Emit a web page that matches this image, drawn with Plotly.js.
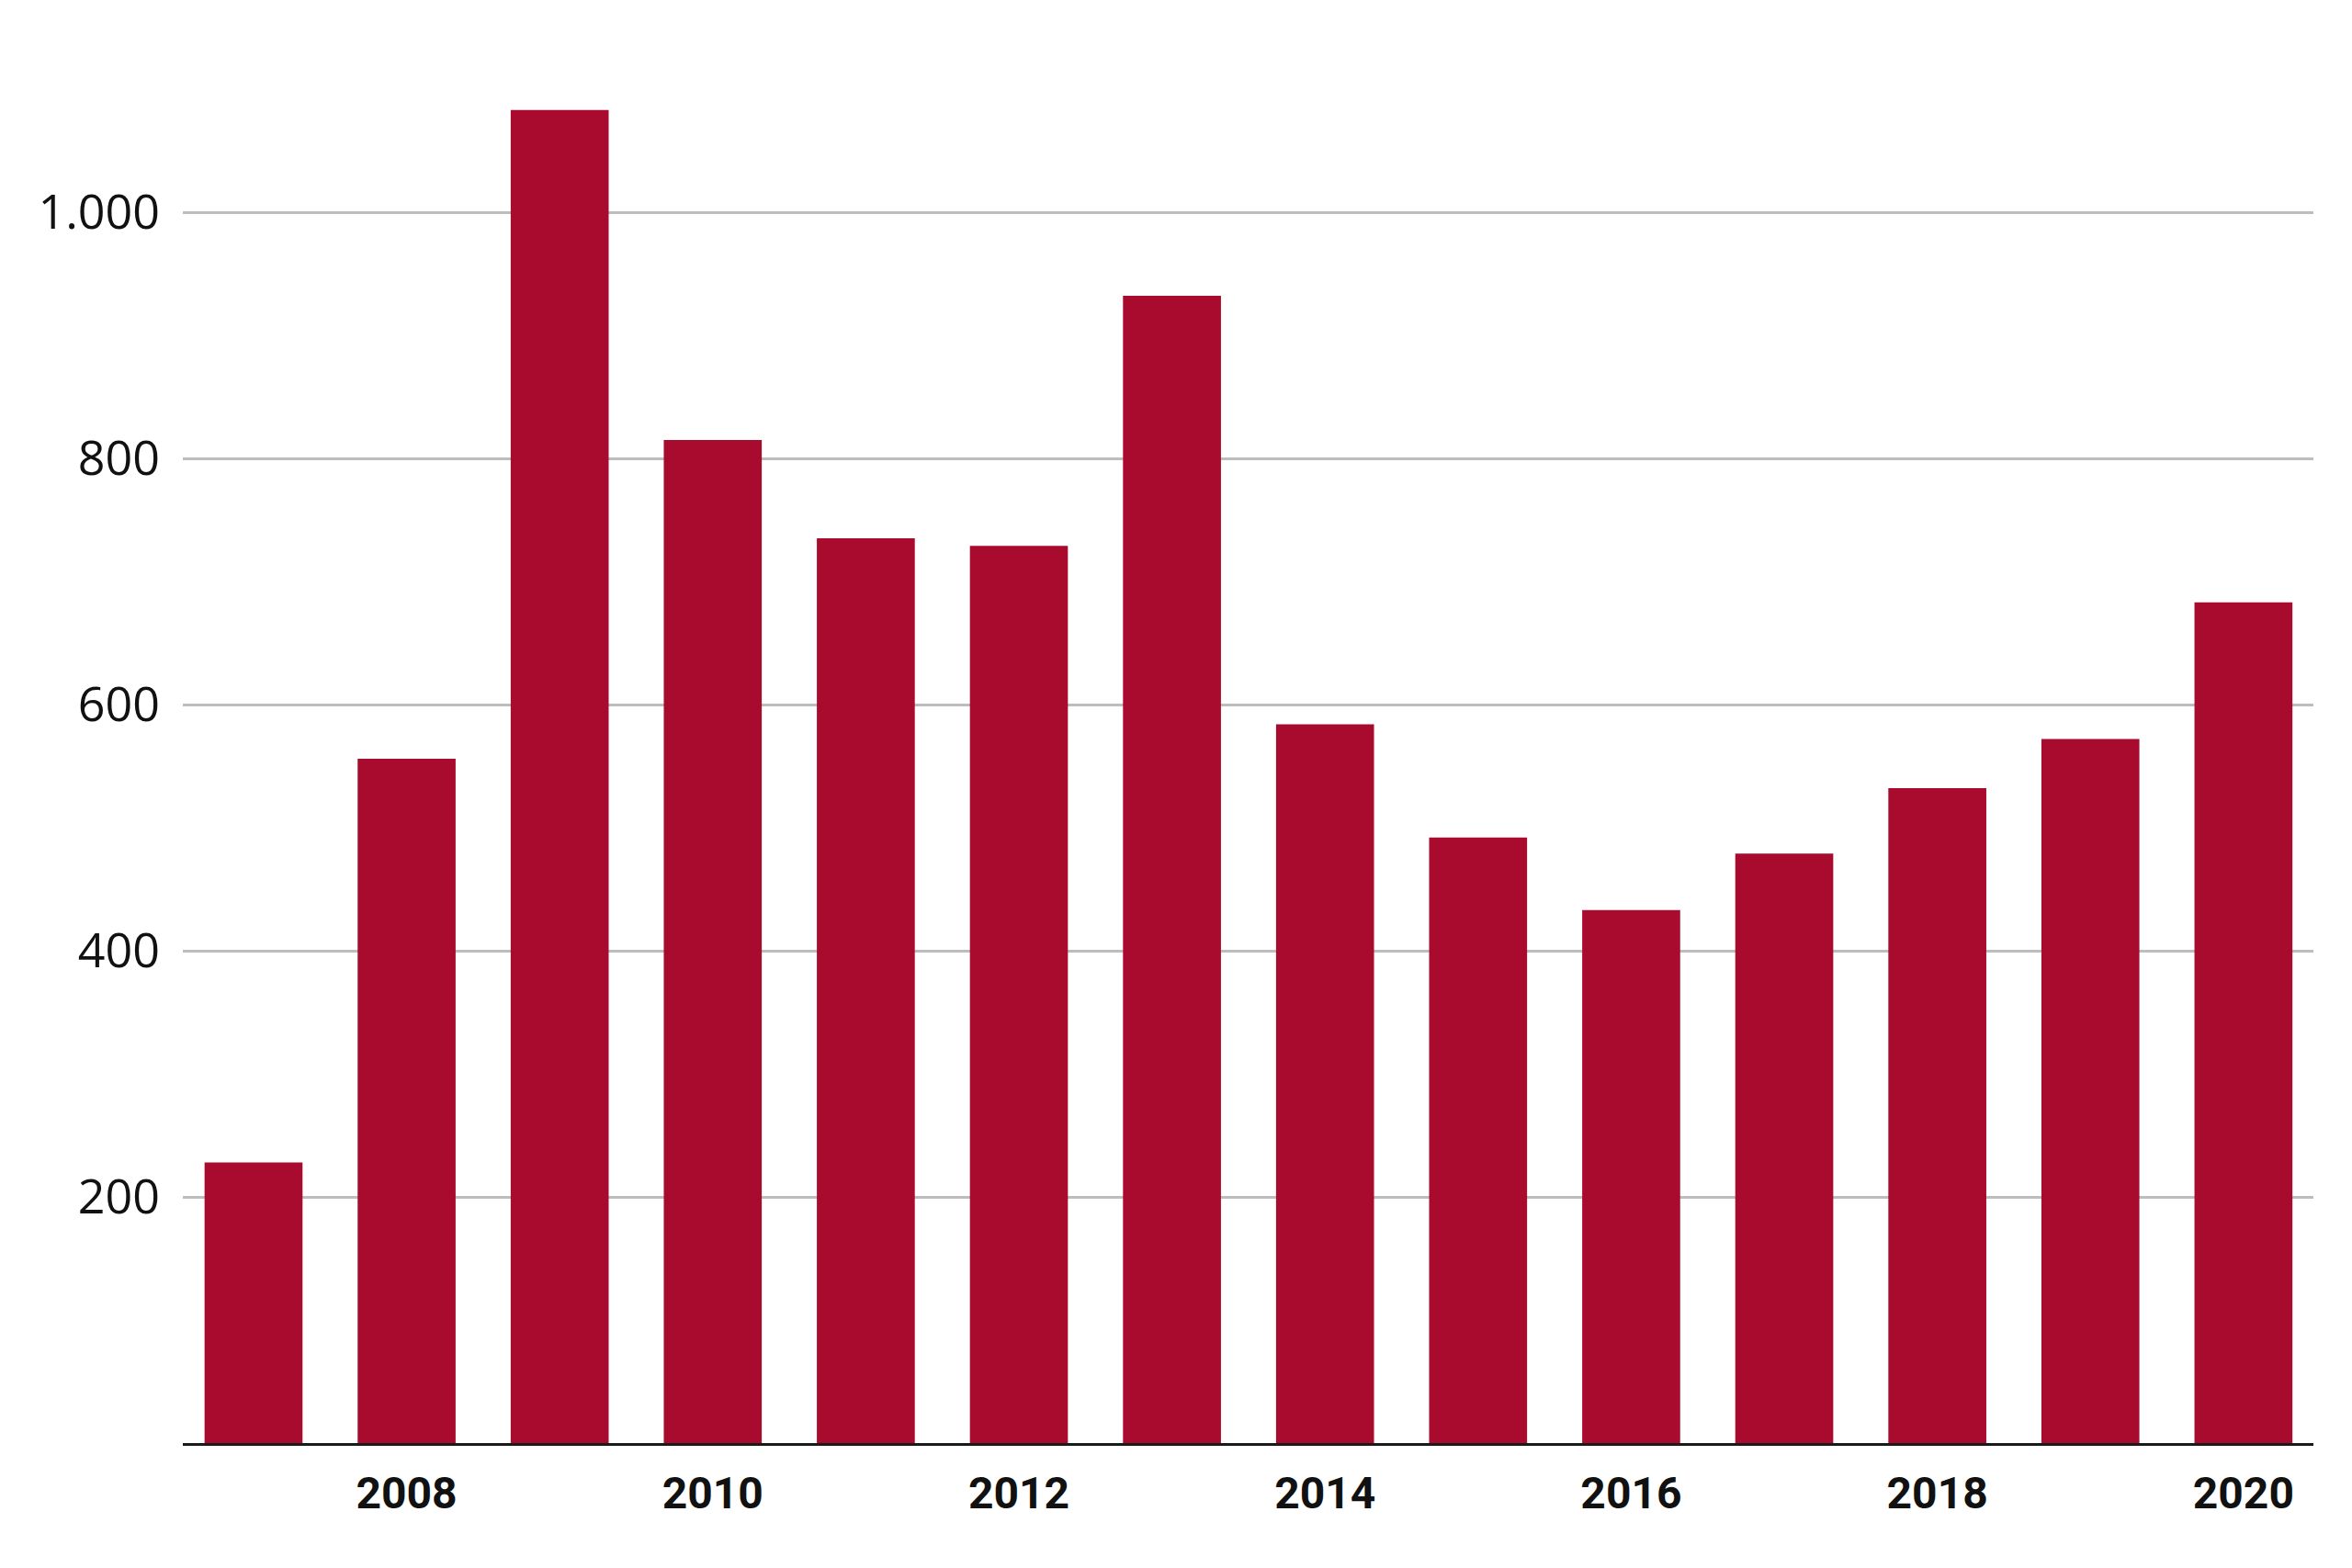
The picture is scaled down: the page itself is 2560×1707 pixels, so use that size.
<!DOCTYPE html>
<html>
<head>
<meta charset="utf-8">
<script src="https://cdn.plot.ly/plotly-3.0.1.min.js"></script>
<style>
html,body{margin:0;padding:0;background:#fff;}
#chart{width:2560px;height:1707px;}
</style>
</head>
<body>
<div id="chart"></div>
<script>
const years = [2007, 2008, 2009, 2010, 2011, 2012, 2013, 2014, 2015, 2016, 2017, 2018, 2019, 2020];
const values = [228, 556, 1083, 815, 735, 729, 932, 584, 492, 433, 479, 532, 572, 683];
const xTickVals = [2008, 2010, 2012, 2014, 2016, 2018, 2020];
const xTickText = ["2008", "2010", "2012", "2014", "2016", "2018", "2020"];
const yTickVals = [200, 400, 600, 800, 1000];
const yTickText = ["200", "400", "600", "800", "1.000"];

const trace = {
  type: 'bar',
  x: years,
  y: values,
  marker: {color: '#A80B2D', line: {width: 0}},
  hoverinfo: 'x+y'
};

const layout = {
  width: 2560,
  height: 1707,
  margin: {l: 199, r: 42, t: 97, b: 136},
  paper_bgcolor: '#ffffff',
  plot_bgcolor: '#ffffff',
  separators: ',.',
  bargap: 0.36,
  showlegend: false,
  xaxis: {
    range: [2006.538, 2020.457],
    tickmode: 'array',
    tickvals: xTickVals,
    ticktext: xTickText,
    showgrid: false,
    zeroline: false,
    showline: true,
    linecolor: '#1a1a1a',
    linewidth: 3,
    ticks: '',
    ticklabelstandoff: 10,
    tickfont: {family: 'Roboto, "DejaVu Sans Condensed", sans-serif', size: 48, color: '#111111', weight: 700}
  },
  yaxis: {
    range: [0, 1100],
    tickmode: 'array',
    tickvals: yTickVals,
    ticktext: yTickText,
    showgrid: true,
    gridcolor: '#bdbdbd',
    gridwidth: 3,
    zeroline: false,
    showline: false,
    ticks: '',
    ticklabelstandoff: 24,
    tickfont: {family: '"Open Sans", "Noto Sans", sans-serif', size: 52, color: '#111111'}
  }
};

Plotly.newPlot('chart', [trace], layout, {staticPlot: true, displayModeBar: false});
</script>
</body>
</html>
